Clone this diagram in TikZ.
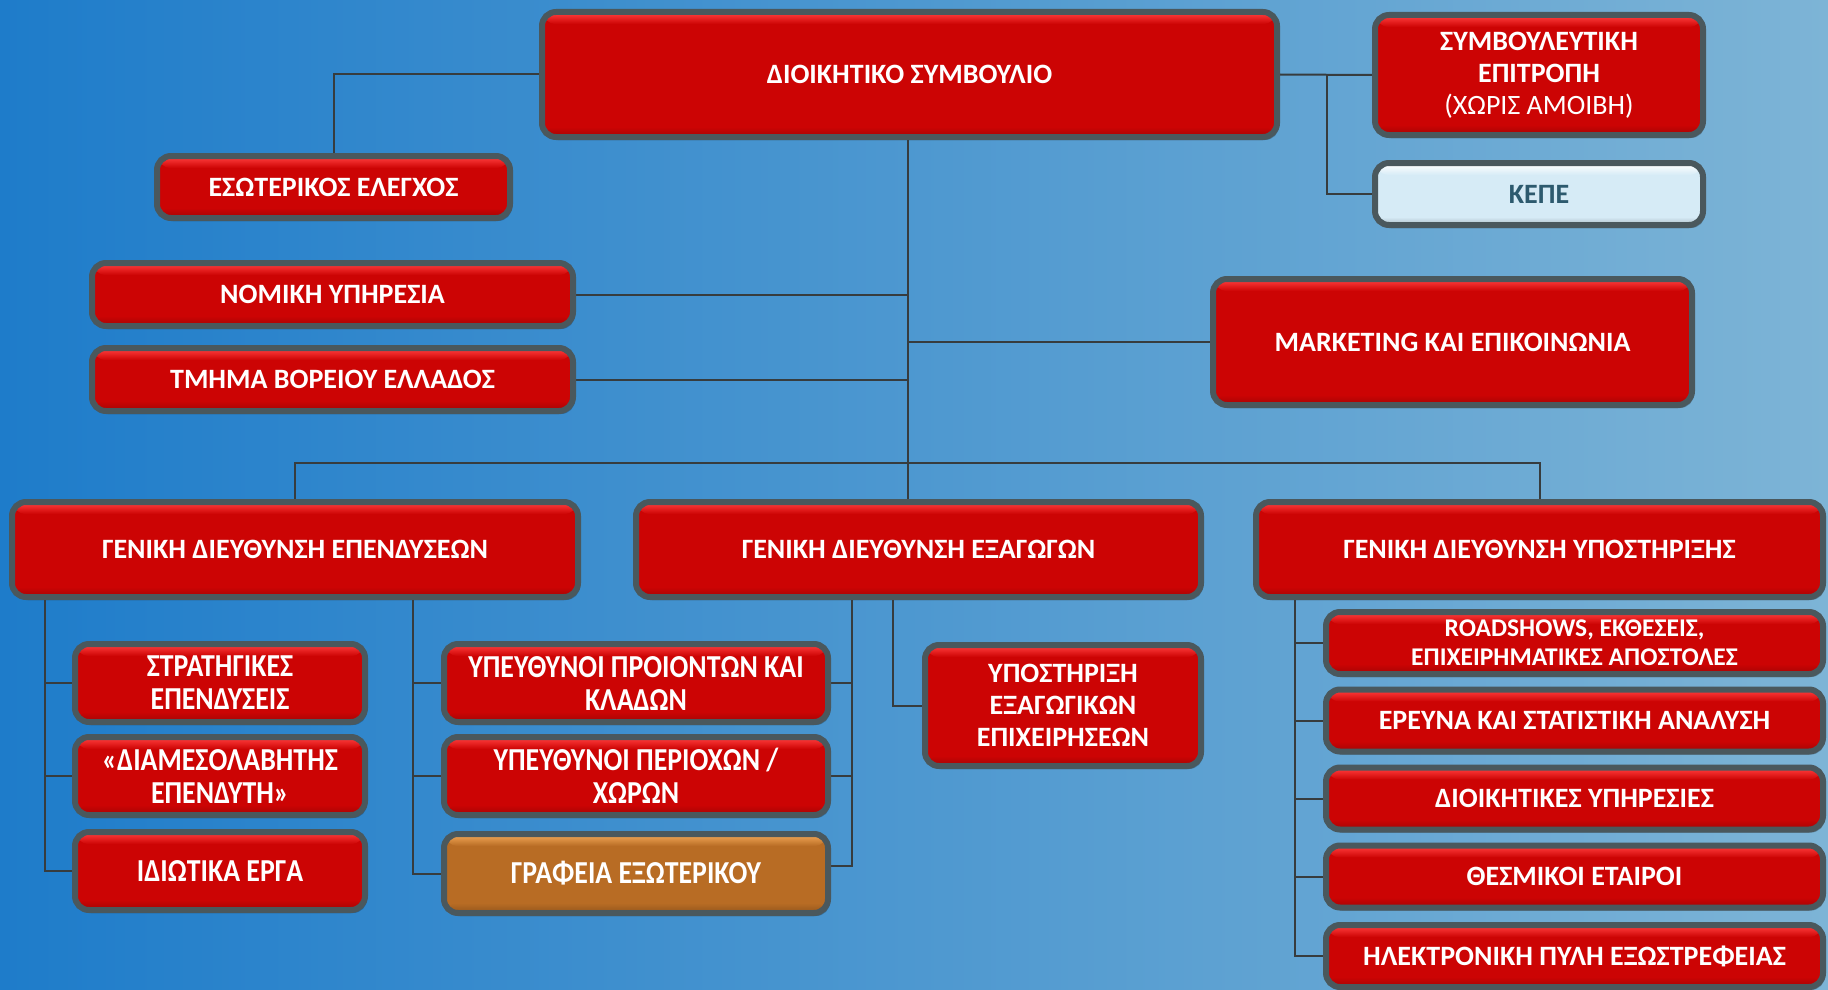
\documentclass[tikz,border=0pt]{standalone}
\usepackage{fontspec}
\setmainfont{Carlito}
\newfontfamily\condfont{Carlito}[FakeStretch=0.87]
\usetikzlibrary{shadows}
\definecolor{bgL}{RGB}{30,124,202}
\definecolor{bgR}{RGB}{125,180,214}
\definecolor{boxred}{RGB}{204,4,4}
\definecolor{hlred}{RGB}{255,60,60}
\definecolor{rimgray}{RGB}{74,88,93}
\definecolor{lineg}{RGB}{55,60,62}
\definecolor{kepefill}{RGB}{214,235,246}
\definecolor{kepetext}{RGB}{45,90,110}
\definecolor{orfill}{RGB}{184,108,36}
\definecolor{orhl}{RGB}{240,165,85}
\pgfdeclarelayer{bg}
\pgfdeclarelayer{lines}
\pgfsetlayers{bg,lines,main}
\tikzset{
  orgbox/.style={draw=rimgray, line width=6pt, rounded corners=14pt,
    text=white, align=center, inner sep=2pt,
    font=\fontsize{28}{32}\selectfont\bfseries,
    general shadow={shadow xshift=2pt, shadow yshift=-3pt, fill=black, opacity=0.25},
    path picture={
      \fill[#1] (path picture bounding box.south west) rectangle (path picture bounding box.north east);
      \shade[top color=hlred, bottom color=#1] ([yshift=-1pt]path picture bounding box.north west) rectangle ([yshift=-12pt]path picture bounding box.north east);
      \shade[top color=#1, bottom color=#1!80!black] ([yshift=10pt]path picture bounding box.south west) rectangle (path picture bounding box.south east);
    }},
  orgbox/.default=boxred,
  kepebox/.style={draw=rimgray, line width=6pt, rounded corners=14pt,
    text=kepetext, align=center, font=\fontsize{28}{32}\selectfont\bfseries,
    general shadow={shadow xshift=2pt, shadow yshift=-3pt, fill=black, opacity=0.25},
    path picture={
      \fill[kepefill] (path picture bounding box.south west) rectangle (path picture bounding box.north east);
      \shade[top color=white, bottom color=kepefill] ([yshift=-1pt]path picture bounding box.north west) rectangle ([yshift=-12pt]path picture bounding box.north east);
      \shade[top color=kepefill, bottom color=kepefill!80!black] ([yshift=8pt]path picture bounding box.south west) rectangle (path picture bounding box.south east);
    }},
  orangebox/.style={draw=rimgray, line width=6pt, rounded corners=14pt,
    text=white, align=center, font=\fontsize{28}{32}\selectfont\bfseries,
    general shadow={shadow xshift=2pt, shadow yshift=-3pt, fill=black, opacity=0.25},
    path picture={
      \fill[orfill] (path picture bounding box.south west) rectangle (path picture bounding box.north east);
      \shade[top color=orhl, bottom color=orfill] ([yshift=-1pt]path picture bounding box.north west) rectangle ([yshift=-12pt]path picture bounding box.north east);
      \shade[top color=orfill, bottom color=orfill!80!black] ([yshift=10pt]path picture bounding box.south west) rectangle (path picture bounding box.south east);
    }},
  cond/.style={font=\fontsize{32}{33}\selectfont\condfont\bfseries},
  conn/.style={draw=lineg, line width=2pt}
}
\begin{document}
\begin{tikzpicture}[x=1pt,y=-1pt]
\begin{pgfonlayer}{bg}
\shade[left color=bgL, right color=bgR] (0,0) rectangle (1828,990);
\end{pgfonlayer}
\useasboundingbox (0,0) rectangle (1828,990);

\node[orgbox, minimum width=735pt, minimum height=125pt] (ds) at (909.5,74.5) {ΔΙΟΙΚΗΤΙΚΟ ΣΥΜΒΟΥΛΙΟ};
\node[orgbox, minimum width=328pt, minimum height=120pt] (symv) at (1539,75) {ΣΥΜΒΟΥΛΕΥΤΙΚΗ\\ΕΠΙΤΡΟΠΗ\\{\mdseries (ΧΩΡΙΣ ΑΜΟΙΒΗ)}};
\node[kepebox, minimum width=328pt, minimum height=62pt] (kepe) at (1539,194) {ΚΕΠΕ};
\node[orgbox, minimum width=353pt, minimum height=62pt] (esot) at (333.5,187) {ΕΣΩΤΕΡΙΚΟΣ ΕΛΕΓΧΟΣ};
\node[orgbox, minimum width=481pt, minimum height=63pt] (nomiki) at (332.5,294.5) {ΝΟΜΙΚΗ ΥΠΗΡΕΣΙΑ};
\node[orgbox, minimum width=481pt, minimum height=63pt] (tmima) at (332.5,379.5) {ΤΜΗΜΑ ΒΟΡΕΙΟΥ ΕΛΛΑΔΟΣ};
\node[orgbox, minimum width=479pt, minimum height=126pt] (mark) at (1452.5,342) {MARKETING ΚΑΙ ΕΠΙΚΟΙΝΩΝΙΑ};

\node[orgbox, minimum width=566pt, minimum height=95pt] (gdep) at (295,549.5) {ΓΕΝΙΚΗ ΔΙΕΥΘΥΝΣΗ ΕΠΕΝΔΥΣΕΩΝ};
\node[orgbox, minimum width=565pt, minimum height=95pt] (gdex) at (918.5,549.5) {ΓΕΝΙΚΗ ΔΙΕΥΘΥΝΣΗ ΕΞΑΓΩΓΩΝ};
\node[orgbox, minimum width=567pt, minimum height=95pt] (gdyp) at (1539.5,549.5) {ΓΕΝΙΚΗ ΔΙΕΥΘΥΝΣΗ ΥΠΟΣΤΗΡΙΞΗΣ};

\node[orgbox, cond, minimum width=290pt, minimum height=78pt] (strat) at (220,683) {ΣΤΡΑΤΗΓΙΚΕΣ\\ΕΠΕΝΔΥΣΕΙΣ};
\node[orgbox, cond, minimum width=290pt, minimum height=78pt] (diam) at (220,776) {«ΔΙΑΜΕΣΟΛΑΒΗΤΗΣ\\ΕΠΕΝΔΥΤΗ»};
\node[orgbox, cond, minimum width=290pt, minimum height=78pt] (idiot) at (220,871) {ΙΔΙΩΤΙΚΑ ΕΡΓΑ};

\node[orgbox, cond, minimum width=384pt, minimum height=78pt] (ypprod) at (636,683) {ΥΠΕΥΘΥΝΟΙ ΠΡΟΙΟΝΤΩΝ ΚΑΙ\\ΚΛΑΔΩΝ};
\node[orgbox, cond, minimum width=384pt, minimum height=78pt] (ypper) at (636,776) {ΥΠΕΥΘΥΝΟΙ ΠΕΡΙΟΧΩΝ /\\ΧΩΡΩΝ};
\node[orangebox, cond, minimum width=384pt, minimum height=79pt] (graf) at (636,873.5) {ΓΡΑΦΕΙΑ ΕΞΩΤΕΡΙΚΟΥ};

\node[orgbox, minimum width=276pt, minimum height=121pt] (ypost) at (1063,705.5) {ΥΠΟΣΤΗΡΙΞΗ\\ΕΞΑΓΩΓΙΚΩΝ\\ΕΠΙΧΕΙΡΗΣΕΩΝ};

\node[orgbox, minimum width=497pt, minimum height=62pt, font=\fontsize{25.5}{29}\selectfont\bfseries] (road) at (1574.5,643) {ROADSHOWS, ΕΚΘΕΣΕΙΣ,\\ΕΠΙΧΕΙΡΗΜΑΤΙΚΕΣ ΑΠΟΣΤΟΛΕΣ};
\node[orgbox, minimum width=497pt, minimum height=62pt] (ereuna) at (1574.5,720.5) {ΕΡΕΥΝΑ ΚΑΙ ΣΤΑΤΙΣΤΙΚΗ ΑΝΑΛΥΣΗ};
\node[orgbox, minimum width=497pt, minimum height=62pt] (dioik) at (1574.5,798.5) {ΔΙΟΙΚΗΤΙΚΕΣ ΥΠΗΡΕΣΙΕΣ};
\node[orgbox, minimum width=497pt, minimum height=62pt] (thesm) at (1574.5,876.5) {ΘΕΣΜΙΚΟΙ ΕΤΑΙΡΟΙ};
\node[orgbox, minimum width=497pt, minimum height=62pt] (ilek) at (1574.5,956) {ΗΛΕΚΤΡΟΝΙΚΗ ΠΥΛΗ ΕΞΩΣΤΡΕΦΕΙΑΣ};

\coordinate (kj) at (1327,75);
\coordinate (bus) at (908,463);
\path (ds.south) ++(-1.5,0) coordinate (dsb);
\path (gdep.south) ++(-250,0) coordinate (epA);
\path (gdep.south) ++(118,0) coordinate (epB);
\path (gdex.south) ++(-66.5,0) coordinate (exA);
\path (gdex.south) ++(-25.5,0) coordinate (exB);
\path (gdyp.south) ++(-244.5,0) coordinate (ypA);

\begin{pgfonlayer}{lines}
\draw[conn] (ds.west) -| (esot.north);
\draw[conn] (ds.east) -- (symv.west);
\draw[conn] (kj) |- (kepe.west);
\draw[conn] (dsb) -- (dsb |- gdex.north);
\draw[conn] (nomiki.east) -- (nomiki.east -| dsb);
\draw[conn] (tmima.east) -- (tmima.east -| dsb);
\draw[conn] (mark.west) -- (mark.west -| dsb);
\draw[conn] (gdep.north) |- (bus) -| (gdyp.north);
% investments
\draw[conn] (epA) |- (idiot.west);
\draw[conn] (epA |- strat.west) -- (strat.west);
\draw[conn] (epA |- diam.west) -- (diam.west);
\draw[conn] (epB) |- (graf.west);
\draw[conn] (epB |- ypprod.west) -- (ypprod.west);
\draw[conn] (epB |- ypper.west) -- (ypper.west);
% exports
\draw[conn] (exA) |- ([yshift=8pt]graf.east);
\draw[conn] (exA |- ypprod.east) -- (ypprod.east);
\draw[conn] (exA |- ypper.east) -- (ypper.east);
\draw[conn] (exB) |- (ypost.west);
% support
\draw[conn] (ypA) |- (ilek.west);
\draw[conn] (ypA |- road.west) -- (road.west);
\draw[conn] (ypA |- ereuna.west) -- (ereuna.west);
\draw[conn] (ypA |- dioik.west) -- (dioik.west);
\draw[conn] (ypA |- thesm.west) -- (thesm.west);
\end{pgfonlayer}
\end{tikzpicture}
\end{document}
